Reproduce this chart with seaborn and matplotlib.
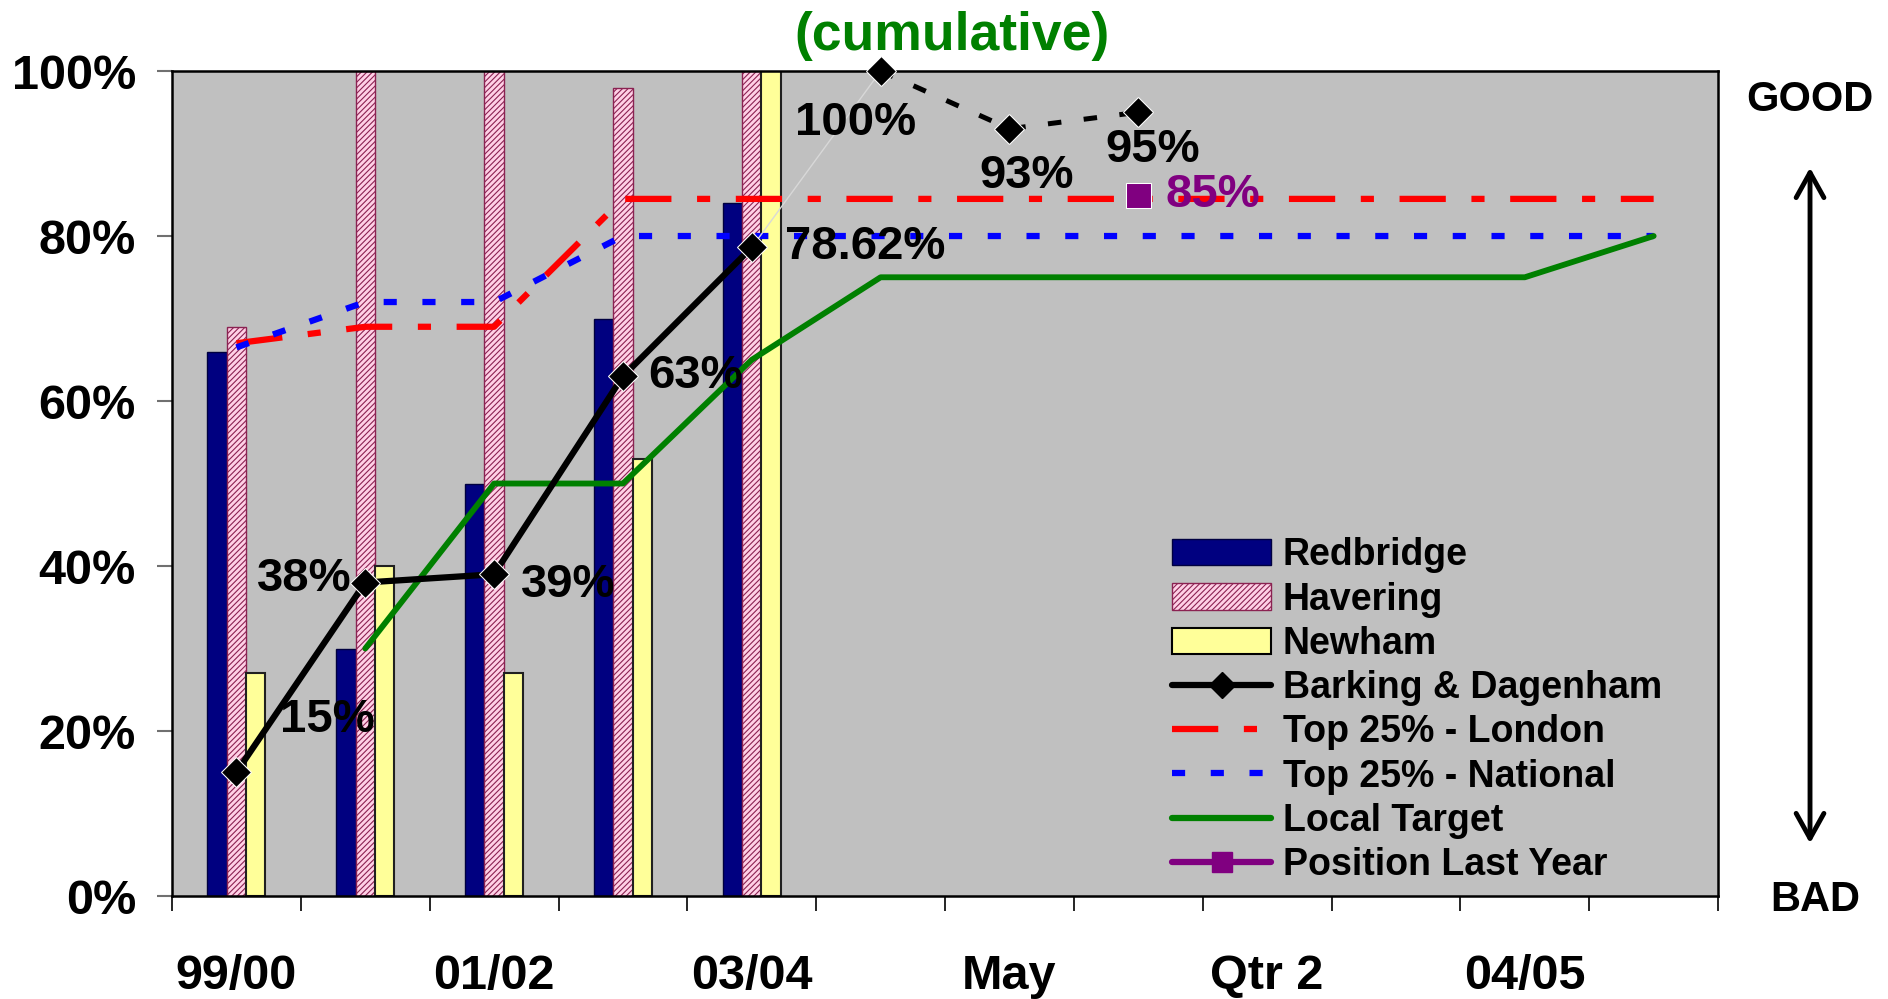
import numpy as np
import pandas as pd
import matplotlib
matplotlib.use("Agg")
import matplotlib.pyplot as plt
from matplotlib.patches import Patch
from matplotlib.lines import Line2D
import seaborn as sns

# ---- data ----
tick_labels = ["99/00", "", "01/02", "", "03/04", "", "May", "", "Qtr 2", "", "04/05", ""]
bar_x = [0, 1, 2, 3, 4]
redbridge = [66, 30, 50, 70, 84]
havering = [69, 100, 100, 98, 100]
newham = [27, 40, 27, 53, 100]

barking_x = [0, 1, 2, 3, 4]
barking = [15, 38, 39, 63, 78.62]
barking_proj_x = [5, 6, 7]
barking_proj = [100, 93, 95]

line_x = list(range(12))
london = [67, 69, 69, 84.5, 84.5, 84.5, 84.5, 84.5, 84.5, 84.5, 84.5, 84.5]
national = [66.5, 72, 72, 80, 80, 80, 80, 80, 80, 80, 80, 80]
target_x = list(range(1, 12))
target = [30, 50, 50, 65, 75, 75, 75, 75, 75, 75, 80]
last_year_x = [7]
last_year = [85]

# label offsets (pixels) for Barking & Dagenham values
barking_offsets = [(44, 52, "left"), (-14, 4, "right"), (27, -11, "left"),
                   (25, 0, "left"), (33, 0, "left")]
proj_offsets = [(-25, -52, "center"), (17, -47, "center"), (14, -38, "center")]

sns.set_theme(style="white")
plt.rcParams["font.family"] = ["Liberation Sans", "DejaVu Sans"]
plt.rcParams["font.weight"] = "bold"
plt.rcParams["text.color"] = "black"
plt.rcParams["xtick.color"] = "black"
plt.rcParams["ytick.color"] = "black"
plt.rcParams["hatch.linewidth"] = 0.8

fig = plt.figure(figsize=(18.88, 9.99), dpi=100)
fig.patch.set_facecolor("white")
ax = fig.add_axes([0.0911, 0.1031, 0.8189, 0.8258])
ax.set_facecolor("#C0C0C0")

bars = pd.DataFrame({
    "x": bar_x * 3,
    "value": redbridge + havering + newham,
    "series": ["Redbridge"] * 5 + ["Havering"] * 5 + ["Newham"] * 5,
})
palette = {"Redbridge": "#000080", "Havering": "#FFD0E6", "Newham": "#FFFF99"}
sns.barplot(data=bars, x="x", y="value", hue="series",
            hue_order=["Redbridge", "Havering", "Newham"], palette=palette,
            native_scale=True, width=0.45, errorbar=None, legend=False,
            saturation=1, ax=ax, zorder=2)
for patch in ax.containers[0]:
    patch.set_edgecolor("#000040")
    patch.set_linewidth(1)
for patch in ax.containers[1]:
    patch.set_hatch("//////")
    patch.set_edgecolor("#8B2252")
    patch.set_linewidth(1)
for patch in ax.containers[2]:
    patch.set_edgecolor("#202020")
    patch.set_linewidth(1.5)

lw = 4.5
sns.lineplot(x=line_x, y=london, color="#FF0000", linewidth=lw,
             linestyle=(0, (7.4, 4.1, 2.1, 4.1)), ax=ax, zorder=3, clip_on=False)
sns.lineplot(x=line_x, y=national, color="#0000FF", linewidth=lw,
             linestyle=(0, (2.1, 4.1)), ax=ax, zorder=3, clip_on=False)
sns.lineplot(x=target_x, y=target, color="#008000", linewidth=4.2,
             ax=ax, zorder=3, clip_on=False)
sns.lineplot(x=[barking_x[-1], barking_proj_x[0]], y=[barking[-1], barking_proj[0]],
             color="#D8D8D8", linewidth=1, ax=ax, zorder=3, clip_on=False)
sns.lineplot(x=barking_x, y=barking, color="black", linewidth=lw, marker="D",
             markersize=15, ax=ax, zorder=4, clip_on=False)
sns.lineplot(x=barking_proj_x, y=barking_proj, color="black", linewidth=3.6,
             linestyle=(0, (2.7, 4.5)), marker="D", markersize=15,
             ax=ax, zorder=4, clip_on=False)
sns.lineplot(x=last_year_x, y=last_year, color="#800080", marker="s",
             markersize=18, linewidth=0, ax=ax, zorder=5, clip_on=False)

label_kw = dict(textcoords="offset pixels", va="center", fontsize=34,
                fontweight="bold", zorder=6, annotation_clip=False)
for x, y, (dx, dy, ha) in zip(barking_x, barking, barking_offsets):
    ax.annotate(f"{y:g}%", xy=(x, y), xytext=(dx, dy), ha=ha, color="black", **label_kw)
for x, y, (dx, dy, ha) in zip(barking_proj_x, barking_proj, proj_offsets):
    ax.annotate(f"{y:g}%", xy=(x, y), xytext=(dx, dy), ha=ha, color="black", **label_kw)
for x, y in zip(last_year_x, last_year):
    ax.annotate(f"{y:g}%", xy=(x, y), xytext=(27, 0), ha="left", color="#800080", **label_kw)

# axes
ax.set_xlim(-0.5, 11.5)
ax.set_ylim(0, 100)
ax.set_xlabel("")
ax.set_ylabel("")
ax.set_xticks(np.arange(12))
ax.set_xticklabels(tick_labels, fontsize=35, fontweight="bold")
ax.set_xticks(np.arange(-0.5, 12, 1), minor=True)
ax.tick_params(axis="x", which="major", length=0, pad=42, colors="black")
ax.tick_params(axis="x", which="minor", length=11, width=1.2, color="black", bottom=True)
ax.set_yticks(np.arange(0, 101, 20))
ax.set_yticklabels([f"{v}%" for v in range(0, 101, 20)], fontsize=35, fontweight="bold")
ax.tick_params(axis="y", length=11, width=1.5, color="#707070", pad=15, left=True,
               labelcolor="black")
for side in ["left", "right", "top", "bottom"]:
    ax.spines[side].set_visible(True)
    ax.spines[side].set_color("black")
    ax.spines[side].set_linewidth(1.8)

# legend
handles = [
    Patch(facecolor="#000080", edgecolor="#000040", label="Redbridge"),
    Patch(facecolor="#FFD0E6", edgecolor="#8B2252", hatch="//////", label="Havering"),
    Patch(facecolor="#FFFF99", edgecolor="black", linewidth=1.5, label="Newham"),
    Line2D([], [], color="black", lw=lw, marker="D", markersize=13, label="Barking & Dagenham"),
    Line2D([], [], color="#FF0000", lw=lw, linestyle=(0, (7.4, 4.1, 2.1, 4.1)), label="Top 25% - London"),
    Line2D([], [], color="#0000FF", lw=lw, linestyle=(0, (2.1, 4.1)), label="Top 25% - National"),
    Line2D([], [], color="#008000", lw=lw, label="Local Target"),
    Line2D([], [], color="#800080", lw=lw, marker="s", markersize=15, label="Position Last Year"),
]
fig.legend(handles=handles, loc="upper left", bbox_to_anchor=(0.6208, 0.4621),
           frameon=False, fontsize=27, handlelength=2.65, handletextpad=0.3,
           labelspacing=0.22, borderpad=0, borderaxespad=0, labelcolor="black")

# annotations outside the plot area
fig.text(0.504, 0.964, "(cumulative)", color="#008000", fontsize=38.5,
         fontweight="bold", ha="center", va="center")
fig.text(0.9587, 0.900, "GOOD", fontsize=30, fontweight="bold", ha="center", va="center")
fig.text(0.9613, 0.099, "BAD", fontsize=30, fontweight="bold", ha="center", va="center")
fig.add_artist(matplotlib.patches.FancyArrowPatch(
    (0.9587, 0.153), (0.9587, 0.835), transform=fig.transFigure,
    arrowstyle="<->,head_length=18,head_width=10", lw=3.5, color="black",
    mutation_scale=1))

fig.savefig("out.png", dpi=100)
